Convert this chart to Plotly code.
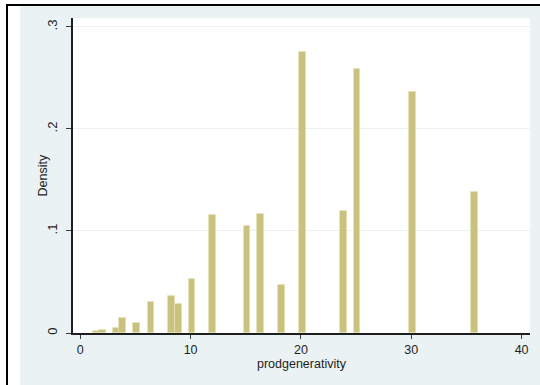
import plotly.graph_objects as go

# bin centers (prodgenerativity) and densities
bin_centers = [1.42, 2.02, 3.26, 3.83, 5.10, 6.40, 8.24, 8.88, 10.12, 11.98,
               15.10, 16.33, 18.23, 20.13, 23.85, 25.09, 30.10, 35.72]
densities = [0.0015, 0.0027, 0.0047, 0.0145, 0.0100, 0.0305, 0.0365, 0.0285,
             0.053, 0.116, 0.105, 0.117, 0.047, 0.2755, 0.1196, 0.2588,
             0.2363, 0.1379]
bin_width = 0.6

x_ticks = [0, 10, 20, 30, 40]
y_ticks = [0, 0.1, 0.2, 0.3]
y_ticktext = ["0", ".1", ".2", ".3"]

BG = "rgb(234,242,243)"
FONT = "Liberation Sans, Arial, sans-serif"
TXT = "rgb(30,30,30)"

W, H = 540, 385
L, R, T, B = 73, 10, 18, 52
pw, ph = W - L - R, H - T - B

def px(x):
    return (x - L) / pw

def py(y):
    return (H - B - y) / ph

fig = go.Figure()
fig.add_trace(go.Bar(
    x=bin_centers, y=densities, width=bin_width,
    marker=dict(color="rgb(201,194,126)",
                line=dict(color="rgb(228,224,178)", width=0.8)),
    showlegend=False, hoverinfo="skip",
))

shapes = [
    # white outer strip on the left and top
    dict(type="rect", xref="paper", yref="paper", x0=px(0), x1=px(20), y0=py(H), y1=py(0),
         fillcolor="white", line=dict(width=0), layer="below"),
    dict(type="rect", xref="paper", yref="paper", x0=px(0), x1=px(W), y0=py(6), y1=py(0),
         fillcolor="white", line=dict(width=0), layer="below"),
    # black frame lines
    dict(type="line", xref="paper", yref="paper", x0=px(6), x1=px(W), y0=py(5), y1=py(5),
         line=dict(color="black", width=2)),
    dict(type="line", xref="paper", yref="paper", x0=px(7), x1=px(7), y0=py(4), y1=py(H),
         line=dict(color="black", width=2)),
]

annotations = [
    dict(text="prodgenerativity", xref="paper", yref="paper", x=px(301.5), y=py(364),
         xanchor="center", yanchor="middle", showarrow=False,
         font=dict(size=12.5, color=TXT)),
    dict(text="Density", xref="paper", yref="paper", x=px(42), y=py(175.5),
         xanchor="center", yanchor="middle", showarrow=False, textangle=-90,
         font=dict(size=12.5, color=TXT)),
]

fig.update_layout(
    width=W, height=H,
    margin=dict(l=L, r=R, t=T, b=B, autoexpand=False),
    paper_bgcolor=BG, plot_bgcolor="white",
    font=dict(family=FONT, size=12, color=TXT),
    bargap=0,
    shapes=shapes,
    annotations=annotations,
    xaxis=dict(
        range=[-0.66, 40.76], tickvals=x_ticks, ticks="outside", ticklen=4,
        tickcolor="rgb(60,60,60)", tickwidth=1, showgrid=False, zeroline=False,
        showline=True, linecolor="rgb(30,30,30)", linewidth=1.5,
        tickfont=dict(size=12.5), automargin=False,
    ),
    yaxis=dict(
        range=[0, 0.3088], tickvals=y_ticks, ticktext=y_ticktext, tickangle=-90,
        ticks="outside", ticklen=5, tickcolor="rgb(60,60,60)", tickwidth=1,
        ticklabelstandoff=4,
        showgrid=True, gridcolor=BG, gridwidth=1, zeroline=False,
        showline=True, linecolor="rgb(30,30,30)", linewidth=1.5,
        tickfont=dict(size=13), automargin=False,
    ),
)

fig.write_html("out.html",
               config={"displayModeBar": False},
               post_script="document.body.style.margin='0';document.body.style.padding='0';")
